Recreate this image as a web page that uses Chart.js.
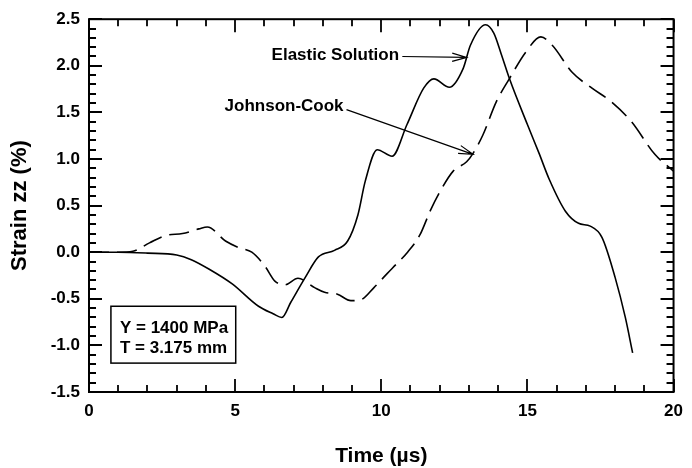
<!DOCTYPE html>
<html lang="en">
<head>
<meta charset="UTF-8">
<title>Strain zz vs Time</title>
<script src="https://cdn.jsdelivr.net/npm/chart.js"></script>
<style>
    body { margin: 0; background: #fff; }
    #wrap { width: 692px; height: 468px; }
</style>
</head>
<body>
<div id="wrap"><canvas id="myChart" width="692" height="468"></canvas></div>
<script>
    // Elastic Solution (solid)
    const elasticTime  = [0, 1, 2, 3, 3.5, 4.1, 4.9, 5.8, 6.3, 6.6, 6.9, 7.4, 7.85, 8.4, 8.85, 9.2, 9.45, 9.86, 10.37, 10.88, 11.45, 11.8, 12.33, 12.8, 13.05, 13.57, 13.85, 14.1, 14.4, 15.0, 15.4, 15.75, 16.3, 16.75, 17.15, 17.55, 18.0, 18.35, 18.6];
    const elasticStrain = [0, 0, -0.01, -0.03, -0.08, -0.18, -0.34, -0.58, -0.66, -0.70, -0.54, -0.27, -0.05, 0.02, 0.12, 0.40, 0.76, 1.10, 1.03, 1.37, 1.76, 1.86, 1.77, 1.97, 2.22, 2.44, 2.35, 2.13, 1.85, 1.37, 1.06, 0.78, 0.44, 0.31, 0.28, 0.16, -0.27, -0.70, -1.08];

    // Johnson-Cook (dashed)
    const jcTime   = [0, 1, 1.5, 2.07, 2.63, 3.2, 3.76, 4.05, 4.67, 5.12, 5.57, 6.02, 6.36, 6.7, 7.15, 7.72, 8.06, 8.5, 8.96, 9.3, 9.75, 10.2, 10.54, 10.9, 11.33, 11.67, 12.01, 12.46, 12.92, 13.14, 13.48, 13.93, 14.38, 14.95, 15.46, 15.85, 16.53, 17.21, 17.89, 18.56, 19.36, 20];
    const jcStrain = [0, 0, 0.01, 0.10, 0.18, 0.20, 0.25, 0.27, 0.12, 0.05, 0.0, -0.15, -0.31, -0.35, -0.28, -0.38, -0.43, -0.45, -0.52, -0.51, -0.38, -0.23, -0.12, 0.0, 0.19, 0.44, 0.65, 0.87, 0.97, 1.06, 1.26, 1.61, 1.86, 2.15, 2.31, 2.22, 1.93, 1.76, 1.61, 1.40, 1.05, 0.87];

    const infoLines = ['Y = 1400 MPa', 'T = 3.175 mm'];

    const FONT = "'Liberation Sans', Arial, Helvetica, sans-serif";

    function toPoints(xs, ys) {
        return xs.map((x, i) => ({x: x, y: ys[i]}));
    }

    function arrow(ctx, x1, y1, x2, y2) {
        ctx.beginPath();
        ctx.moveTo(x1, y1);
        ctx.lineTo(x2, y2);
        const a = Math.atan2(y2 - y1, x2 - x1);
        const len = 15, w = 0.28;
        ctx.moveTo(x2 - len * Math.cos(a - w), y2 - len * Math.sin(a - w));
        ctx.lineTo(x2, y2);
        ctx.lineTo(x2 - len * Math.cos(a + w), y2 - len * Math.sin(a + w));
        ctx.stroke();
    }

    // frame, inward ticks on all sides, labels and info box
    const decorPlugin = {
        id: 'decor',
        afterDraw(chart) {
            const ctx = chart.ctx;
            const xs = chart.scales.x, ys = chart.scales.y;
            const a = chart.chartArea;
            ctx.save();
            ctx.strokeStyle = '#000';
            ctx.lineWidth = 2;
            ctx.strokeRect(a.left, a.top, a.right - a.left, a.bottom - a.top);

            ctx.lineWidth = 1.8;
            ctx.beginPath();
            for (let i = 0; i <= 20; i++) {
                const px = Math.round(xs.getPixelForValue(i));
                const L = i % 5 === 0 ? 13 : 7;
                ctx.moveTo(px, a.bottom); ctx.lineTo(px, a.bottom - L);
                ctx.moveTo(px, a.top); ctx.lineTo(px, a.top + L);
            }
            for (let i = -15; i <= 25; i++) {
                const py = Math.round(ys.getPixelForValue(i / 10));
                const L = i % 5 === 0 ? 13 : 7;
                ctx.moveTo(a.left, py); ctx.lineTo(a.left + L, py);
                ctx.moveTo(a.right, py); ctx.lineTo(a.right - L, py);
            }
            ctx.stroke();

            // curve labels
            ctx.fillStyle = '#000';
            ctx.font = 'bold 17px ' + FONT;
            ctx.textAlign = 'right';
            ctx.textBaseline = 'middle';
            ctx.fillText('Elastic Solution', xs.getPixelForValue(10.61), ys.getPixelForValue(2.116));
            ctx.fillText('Johnson-Cook', xs.getPixelForValue(8.71), ys.getPixelForValue(1.561));
            ctx.lineWidth = 1.2;
            arrow(ctx, xs.getPixelForValue(10.72), ys.getPixelForValue(2.10), xs.getPixelForValue(12.92), ys.getPixelForValue(2.09));
            arrow(ctx, xs.getPixelForValue(8.81), ys.getPixelForValue(1.53), xs.getPixelForValue(13.14), ys.getPixelForValue(1.05));

            // info box
            const bx1 = xs.getPixelForValue(0.75), bx2 = xs.getPixelForValue(5.02);
            const by1 = ys.getPixelForValue(-0.58), by2 = ys.getPixelForValue(-1.19);
            ctx.lineWidth = 1.5;
            ctx.strokeRect(bx1, by1, bx2 - bx1, by2 - by1);
            ctx.textAlign = 'left';
            ctx.fillText(infoLines[0], bx1 + 9, ys.getPixelForValue(-0.815));
            ctx.fillText(infoLines[1], bx1 + 9, ys.getPixelForValue(-1.035));
            ctx.restore();
        }
    };

    const ctx = document.getElementById('myChart').getContext('2d');
    const strainChart = new Chart(ctx, {
        type: 'line',
        data: {
            datasets: [{
                label: 'Elastic Solution',
                data: toPoints(elasticTime, elasticStrain),
                borderColor: '#000',
                borderWidth: 1.6,
                pointRadius: 0,
                cubicInterpolationMode: 'monotone',
                fill: false
            }, {
                label: 'Johnson-Cook',
                data: toPoints(jcTime, jcStrain),
                borderColor: '#000',
                borderWidth: 1.6,
                borderDash: [20, 8],
                pointRadius: 0,
                cubicInterpolationMode: 'monotone',
                fill: false
            }]
        },
        options: {
            responsive: false,
            animation: false,
            layout: { padding: { left: 0, top: 17, right: 13, bottom: 0 } },
            plugins: {
                legend: { display: false },
                tooltip: { enabled: false }
            },
            scales: {
                x: {
                    type: 'linear',
                    min: 0,
                    max: 20,
                    afterFit: s => { s.height = 76; },
                    grid: { display: false, drawTicks: false },
                    border: { display: false },
                    ticks: {
                        stepSize: 5,
                        padding: 9,
                        color: '#000',
                        font: { family: FONT, size: 17, weight: 'bold' },
                        maxRotation: 0,
                        callback: v => String(v)
                    },
                    title: {
                        display: true,
                        text: 'Time (\u00b5s)',
                        color: '#000',
                        font: { family: FONT, size: 21, weight: 'bold' },
                        padding: { top: 0, bottom: -1 }
                    }
                },
                y: {
                    min: -1.5,
                    max: 2.5,
                    afterFit: s => { s.width = 89; },
                    grid: { display: false, drawTicks: false },
                    border: { display: false },
                    ticks: {
                        stepSize: 0.5,
                        padding: 9,
                        color: '#000',
                        font: { family: FONT, size: 17, weight: 'bold' },
                        callback: v => v.toFixed(1)
                    },
                    title: {
                        display: true,
                        text: 'Strain zz (%)',
                        color: '#000',
                        font: { family: FONT, size: 22, weight: 'bold' },
                        padding: { top: 7, bottom: 0 }
                    }
                }
            }
        },
        plugins: [decorPlugin]
    });
</script>
</body>
</html>
